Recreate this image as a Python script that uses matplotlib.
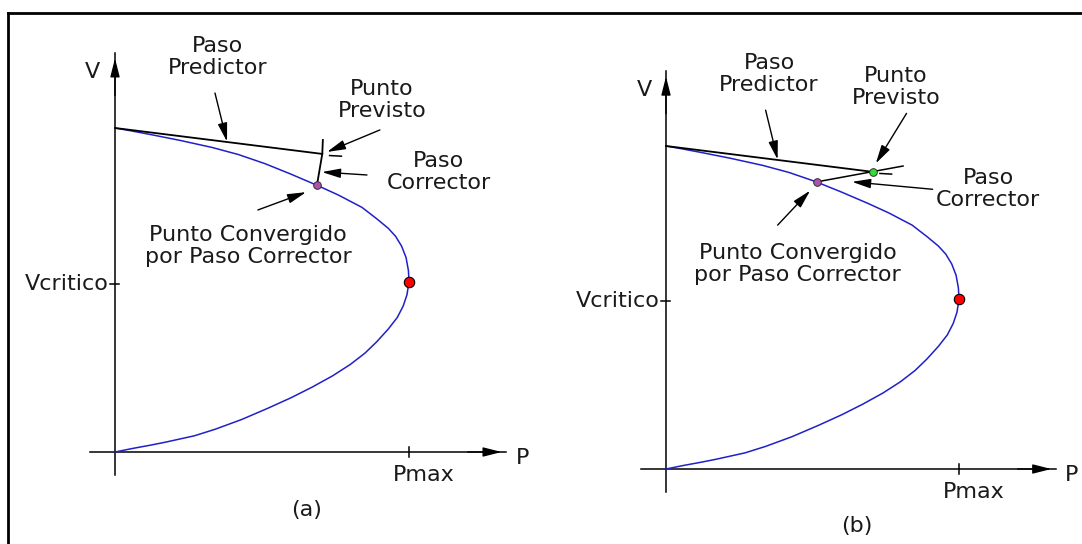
import matplotlib.pyplot as plt
from matplotlib.lines import Line2D

W, H = 1082, 544

# PV nose curve, normalised: P / Pmax and V / V0
P_LOWER = [0, 0.06, 0.12, 0.17, 0.22, 0.27, 0.34, 0.43, 0.52, 0.60, 0.67,
           0.74, 0.80, 0.85, 0.89, 0.93, 0.96, 0.98, 0.993, 1.0]
V_LOWER = [0, 0.011, 0.021, 0.03, 0.04, 0.05, 0.07, 0.10, 0.135, 0.168, 0.20,
           0.235, 0.27, 0.305, 0.34, 0.38, 0.415, 0.45, 0.485, 0.525]
P_UPPER = [1.0, 0.998, 0.99, 0.975, 0.955, 0.93, 0.89, 0.84, 0.76, 0.69, 0.60,
           0.51, 0.42, 0.33, 0.22, 0.12, 0.05, 0]
V_UPPER = [0.525, 0.56, 0.60, 0.635, 0.665, 0.69, 0.72, 0.755, 0.793, 0.822,
           0.857, 0.89, 0.918, 0.94, 0.962, 0.98, 0.992, 1.0]

NOSE = (1.0, 0.525)
V_CRIT = 0.52
PREDICT_START = (0, 1.0)
PREDICTED = (0.705, 0.92)
PREDICT_STUB = [(0.73, 0.915), (0.77, 0.913)]

# (a): vertical corrector step, (b): corrector along a slanted line
CORRECTOR_A = [(0.707, 0.963), PREDICTED, (0.687, 0.824)]
CONVERGED_A = (0.687, 0.824)
CORRECTOR_B = [(0.515, 0.889), (0.809, 0.938)]
CONVERGED_B = (0.515, 0.889)

LABELS_A = [
    ("Paso\nPredictor", 0.35, 1.219),
    ("Punto\nPrevisto", 0.908, 1.086),
    ("Paso\nCorrector", 1.102, 0.864),
    ("Punto Convergido\npor Paso Corrector", 0.452, 0.636),
]
LABELS_B = [
    ("Paso\nPredictor", 0.352, 1.223),
    ("Punto\nPrevisto", 0.785, 1.183),
    ("Paso\nCorrector", 1.099, 0.867),
    ("Punto Convergido\npor Paso Corrector", 0.45, 0.635),
]

# (tail, head) of the pointer arrows
ARROWS_A = [
    ((0.34, 1.108), (0.381, 0.958)),
    ((0.901, 0.994), (0.721, 0.926)),
    ((0.857, 0.855), (0.704, 0.864)),
    ((0.486, 0.747), (0.65, 0.802)),
]
ARROWS_B = [
    ((0.34, 1.111), (0.381, 0.958)),
    ((0.821, 1.101), (0.716, 0.946)),
    ((0.91, 0.866), (0.635, 0.889)),
    ((0.381, 0.755), (0.492, 0.862)),
]

FONT = 16
TEXT_COLOR = "#1a1a1a"
CURVE_COLOR = "#2020c8"
HEAD = "-|>,head_length=0.75,head_width=0.19"


def panel_axes(fig, origin_px, scale_px, rect_px):
    left, top, right, bottom = rect_px
    ax = fig.add_axes([left / W, 1 - bottom / H, (right - left) / W, (bottom - top) / H])
    ox, oy = origin_px
    sx, sy = scale_px
    ax.set_xlim((left - ox) / sx, (right - ox) / sx)
    ax.set_ylim((oy - bottom) / sy, (oy - top) / sy)
    ax.axis("off")
    return ax


def arrow(ax, tail, head, lw=1.0):
    ax.annotate("", xy=head, xytext=tail,
                arrowprops=dict(arrowstyle=HEAD, color="black", lw=lw,
                                mutation_scale=15, shrinkA=0, shrinkB=0),
                annotation_clip=False)


def label(ax, x, y, text, **kw):
    ax.text(x, y, text, fontsize=FONT, color=TEXT_COLOR, va="center", **kw)


def draw_axes(ax, tag):
    # P axis with arrow, V axis with arrow; the lines run a bit past the heads
    ax.plot([-0.085, 1.33], [0, 0], color="black", lw=1.1, clip_on=False)
    arrow(ax, (1.20, 0), (1.315, 0))
    ax.plot([0, 0], [-0.071, 1.231], color="black", lw=1.1, clip_on=False)
    arrow(ax, (0, 1.10), (0, 1.215))

    ax.plot([-0.017, 0.014], [V_CRIT, V_CRIT], color="black", lw=1.1)
    ax.plot([1.0, 1.0], [-0.015, 0.015], color="black", lw=1.1)

    label(ax, -0.075, 1.173, "V", ha="center")
    label(ax, 1.385, -0.02, "P", ha="center")
    label(ax, -0.02, V_CRIT, "Vcritico", ha="right")
    label(ax, 1.05, -0.07, "Pmax", ha="center")
    label(ax, 0.65, -0.178, tag, ha="center")


def draw_curve(ax):
    ax.plot(P_LOWER, V_LOWER, color=CURVE_COLOR, lw=1.1)
    ax.plot(P_UPPER, V_UPPER, color=CURVE_COLOR, lw=1.1)
    ax.plot(*NOSE, "o", color="red", mec="black", mew=0.8, ms=7.5, zorder=5)


def draw_predictor(ax):
    ax.plot([PREDICT_START[0], PREDICTED[0]], [PREDICT_START[1], PREDICTED[1]],
            color="black", lw=1.3)
    ax.plot([p[0] for p in PREDICT_STUB], [p[1] for p in PREDICT_STUB],
            color="black", lw=1.1)


def draw_labels(ax, labels, arrows):
    for text, x, y in labels:
        label(ax, x, y, text, ha="center", linespacing=1.15)
    for tail, head in arrows:
        arrow(ax, tail, head)


plt.rcParams["font.family"] = ["DejaVu Sans"]
fig = plt.figure(figsize=(W / 100, H / 100), dpi=100)

# outer frame: only the top and left edges fall inside the image
fig.add_artist(Line2D([8 / W, 1], [1 - 13 / H, 1 - 13 / H],
                      transform=fig.transFigure, color="black", lw=2))
fig.add_artist(Line2D([8 / W, 8 / W], [0, 1 - 13 / H],
                      transform=fig.transFigure, color="black", lw=2))

# panel (a)
ax_a = panel_axes(fig, (115, 452), (294, 324), (10, 15, 545, 544))
draw_axes(ax_a, "(a)")
draw_curve(ax_a)
draw_predictor(ax_a)
ax_a.plot([p[0] for p in CORRECTOR_A], [p[1] for p in CORRECTOR_A],
          color="black", lw=1.3)
ax_a.plot(*CONVERGED_A, "o", color="#b050b0", mec="#303030", mew=0.7, ms=5.5, zorder=5)
draw_labels(ax_a, LABELS_A, ARROWS_A)

# panel (b)
ax_b = panel_axes(fig, (666, 469), (293, 323), (545, 15, 1082, 544))
draw_axes(ax_b, "(b)")
draw_curve(ax_b)
draw_predictor(ax_b)
ax_b.plot([p[0] for p in CORRECTOR_B], [p[1] for p in CORRECTOR_B],
          color="black", lw=1.1)
ax_b.plot(*CONVERGED_B, "o", color="#b050b0", mec="#303030", mew=0.7, ms=5.5, zorder=5)
ax_b.plot(*PREDICTED, "o", color="#30e030", mec="#303030", mew=0.7, ms=5.5, zorder=5)
draw_labels(ax_b, LABELS_B, ARROWS_B)

fig.savefig("out.png", dpi=100)
